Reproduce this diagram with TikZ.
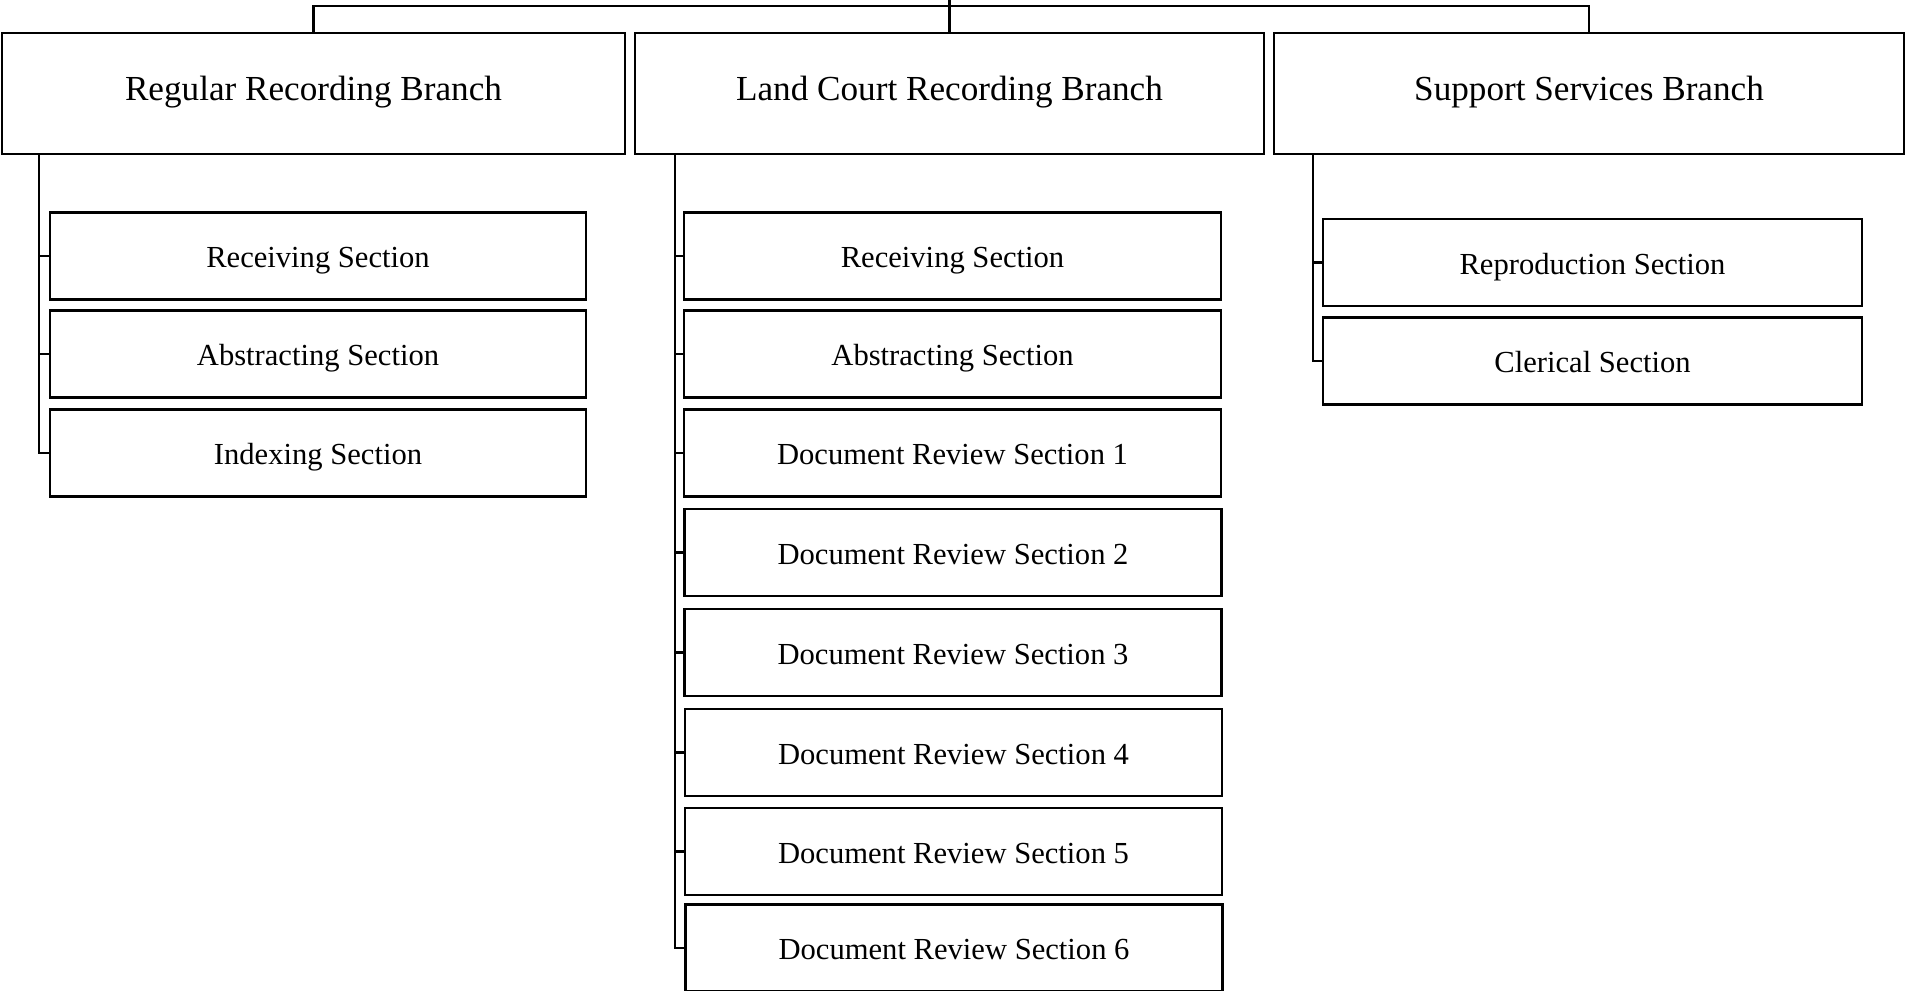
\documentclass[tikz,border=0pt]{standalone}
\usepackage{fontspec}
\setmainfont{Liberation Serif}
\begin{document}
\begin{tikzpicture}
        [x=0.01cm,y=-0.01cm,line width=0.7pt,
         branch/.style={draw,rectangle,minimum height=1.21cm,text height=6.9pt,text depth=2.8pt,font=\fontsize{10}{12}\selectfont},
         section/.style={draw,rectangle,minimum height=0.87cm,text height=8.6pt,text depth=1.9pt,font=\fontsize{8.7}{10}\selectfont}]
        \useasboundingbox (0,0) rectangle (1906,991);
        \node[branch,minimum width=6.23cm] (reg) at (313.5,93.5) {Regular Recording Branch};
        \node[branch,minimum width=6.29cm] (land) at (949.5,93.5) {Land Court Recording Branch};
        \node[branch,minimum width=6.30cm] (supp) at (1589,93.5) {Support Services Branch};
        \node[section,minimum width=5.36cm] (reg1) at (318,256) {Receiving Section};
        \node[section,minimum width=5.36cm] (reg2) at (318,354) {Abstracting Section};
        \node[section,minimum width=5.36cm] (reg3) at (318,453) {Indexing Section};
        \node[section,minimum width=5.37cm] (land1) at (952.5,256) {Receiving Section};
        \node[section,minimum width=5.37cm] (land2) at (952.5,354) {Abstracting Section};
        \node[section,minimum width=5.37cm] (land3) at (952.5,453) {Document Review Section 1};
        \node[section,minimum width=5.37cm] (land4) at (953,552.5) {Document Review Section 2};
        \node[section,minimum width=5.37cm] (land5) at (953,652.5) {Document Review Section 3};
        \node[section,minimum width=5.37cm] (land6) at (953.5,752.5) {Document Review Section 4};
        \node[section,minimum width=5.37cm] (land7) at (953.5,851.5) {Document Review Section 5};
        \node[section,minimum width=5.37cm] (land8) at (954,948) {Document Review Section 6};
        \node[section,minimum width=5.39cm] (supp1) at (1592.5,262.5) {Reproduction Section};
        \node[section,minimum width=5.39cm] (supp2) at (1592.5,361) {Clerical Section};
        \coordinate (top) at (949.5,0);
        \coordinate (bar) at (949.5,6);
        \coordinate (regbus) at (39,0);
        \coordinate (landbus) at (675,0);
        \coordinate (suppbus) at (1313,0);
        \draw (top) -- (land.north);
        \draw (reg.north) |- (bar) -| (supp.north);
        \draw (reg.south -| regbus) |- (reg3.west);
        \draw (regbus |- reg1.west) -- (reg1.west);
        \draw (regbus |- reg2.west) -- (reg2.west);
        \draw (land.south -| landbus) |- (land8.west);
        \draw (landbus |- land1.west) -- (land1.west);
        \draw (landbus |- land2.west) -- (land2.west);
        \draw (landbus |- land3.west) -- (land3.west);
        \draw (landbus |- land4.west) -- (land4.west);
        \draw (landbus |- land5.west) -- (land5.west);
        \draw (landbus |- land6.west) -- (land6.west);
        \draw (landbus |- land7.west) -- (land7.west);
        \draw (supp.south -| suppbus) |- (supp2.west);
        \draw (suppbus |- supp1.west) -- (supp1.west);
    \end{tikzpicture}
\end{document}
